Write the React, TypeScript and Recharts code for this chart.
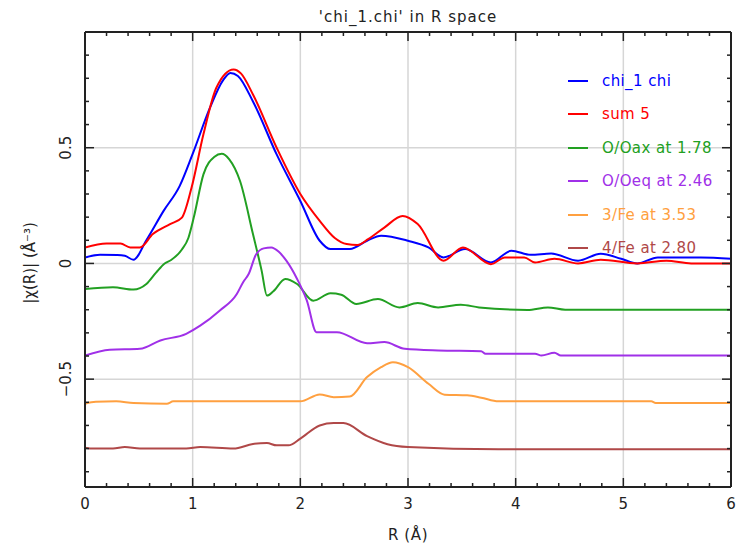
import { LineChart, Line, XAxis, YAxis, CartesianGrid } from "recharts";

// |chi(R)| for the data, the fit sum and each scattering path, as [R, value]
const chiPts: [number, number][] = [
  [0, 0.026], [0.14, 0.037], [0.3, 0.036], [0.37, 0.033], [0.45, 0.016], [0.57, 0.1],
  [0.73, 0.227], [0.88, 0.335], [1.0, 0.473], [1.16, 0.672], [1.28, 0.79], [1.35, 0.823],
  [1.42, 0.81], [1.56, 0.7], [1.78, 0.471], [2.0, 0.27], [2.18, 0.098], [2.28, 0.062],
  [2.46, 0.062], [2.62, 0.098], [2.75, 0.12], [3.0, 0.098], [3.19, 0.069], [3.33, 0.026],
  [3.53, 0.062], [3.77, 0.004], [3.96, 0.055], [4.14, 0.037], [4.33, 0.043], [4.58, 0.012],
  [4.79, 0.042], [4.98, 0.02], [5.13, 0.0], [5.32, 0.026], [5.57, 0.026], [5.72, 0.026], [6.0, 0.02],
];

const sumPts: [number, number][] = [
  [0, 0.069], [0.2, 0.086], [0.33, 0.086], [0.42, 0.069], [0.51, 0.069], [0.63, 0.127],
  [0.79, 0.17], [0.9, 0.198], [0.99, 0.328], [1.1, 0.558], [1.22, 0.759], [1.38, 0.838],
  [1.45, 0.82], [1.56, 0.73], [1.78, 0.5], [2.0, 0.3], [2.18, 0.184], [2.32, 0.11],
  [2.43, 0.084], [2.53, 0.08], [2.63, 0.105], [2.78, 0.155], [2.95, 0.205], [3.09, 0.17],
  [3.33, 0.012], [3.51, 0.069], [3.77, -0.003], [3.9, 0.026], [4.08, 0.026], [4.18, 0.004],
  [4.36, 0.02], [4.58, 0.0], [4.79, 0.016], [5.13, 0.0], [5.4, 0.012], [5.63, 0.0], [6.0, 0.0],
];

const oaxPts: [number, number][] = [
  [0, -0.11], [0.26, -0.103], [0.45, -0.113], [0.57, -0.089], [0.66, -0.04], [0.74, 0.0],
  [0.8, 0.015], [0.9, 0.06], [0.96, 0.11], [1.01, 0.198], [1.1, 0.385], [1.2, 0.46],
  [1.27, 0.474], [1.34, 0.45], [1.44, 0.356], [1.56, 0.127], [1.64, -0.03], [1.69, -0.139],
  [1.75, -0.12], [1.86, -0.067], [1.97, -0.089], [2.12, -0.161], [2.28, -0.129], [2.38, -0.135],
  [2.52, -0.175], [2.72, -0.154], [2.92, -0.19], [3.09, -0.171], [3.28, -0.19], [3.49, -0.178],
  [3.66, -0.19], [4.11, -0.201], [4.3, -0.19], [4.46, -0.2], [6.0, -0.2],
];

const oeqPts: [number, number][] = [
  [0, -0.398], [0.23, -0.373], [0.51, -0.369], [0.7, -0.333], [0.94, -0.304], [1.07, -0.269],
  [1.25, -0.204], [1.41, -0.132], [1.47, -0.08], [1.52, -0.046], [1.59, 0.04], [1.66, 0.065],
  [1.73, 0.069], [1.8, 0.05], [1.87, 0.012], [1.97, -0.067], [2.06, -0.16], [2.15, -0.297],
  [2.34, -0.297], [2.62, -0.345], [2.78, -0.34], [2.97, -0.369], [3.28, -0.376], [3.68, -0.379],
  [3.72, -0.39], [4.18, -0.39], [4.24, -0.398], [4.36, -0.386], [4.42, -0.398], [6.0, -0.398],
];

const fe3Pts: [number, number][] = [
  [0, -0.606], [0.1, -0.598], [0.29, -0.596], [0.45, -0.603], [0.76, -0.606], [0.82, -0.596],
  [2.0, -0.596], [2.18, -0.566], [2.31, -0.578], [2.46, -0.575], [2.62, -0.491], [2.75, -0.448],
  [2.86, -0.427], [3.0, -0.448], [3.19, -0.52], [3.34, -0.567], [3.55, -0.57], [3.68, -0.58],
  [3.84, -0.596], [5.26, -0.596], [5.3, -0.603], [6.0, -0.603],
];

const fe4Pts: [number, number][] = [
  [0, -0.796], [0.08, -0.8], [0.26, -0.8], [0.37, -0.793], [0.51, -0.8], [0.94, -0.8],
  [1.07, -0.793], [1.38, -0.8], [1.56, -0.78], [1.69, -0.776], [1.78, -0.786], [1.89, -0.786],
  [2.0, -0.757], [2.18, -0.7], [2.31, -0.69], [2.4, -0.69], [2.62, -0.746], [2.81, -0.781],
  [3.0, -0.793], [3.84, -0.803], [6.0, -0.803],
];

const seriesNames = ["chi_1 chi", "sum 5", "O/Oax at 1.78", "O/Oeq at 2.46", "3/Fe at 3.53", "4/Fe at 2.80"];
const seriesColors = ["#0000ff", "#ff0000", "#22a022", "#a030e8", "#ffa040", "#b04848"];
const seriesPts = [chiPts, sumPts, oaxPts, oeqPts, fe3Pts, fe4Pts];

const xTicks = [
  0, 0.2, 0.4, 0.6, 0.8, 1, 1.2, 1.4, 1.6, 1.8, 2, 2.2, 2.4, 2.6, 2.8, 3,
  3.2, 3.4, 3.6, 3.8, 4, 4.2, 4.4, 4.6, 4.8, 5, 5.2, 5.4, 5.6, 5.8, 6,
];
const yTicks = [
  -0.9, -0.8, -0.7, -0.6, -0.5, -0.4, -0.3, -0.2, -0.1, 0,
  0.1, 0.2, 0.3, 0.4, 0.5, 0.6, 0.7, 0.8, 0.9,
];
const xGrid = [1, 2, 3, 4, 5];
const yGrid = [-0.5, 0, 0.5];

const series = seriesNames.map((name, i) => ({
  name,
  color: seriesColors[i],
  data: seriesPts[i].map(([r, v]) => ({ r, v })),
}));

const FONT = "'DejaVu Sans', sans-serif";
const INK = "#222";

const isMajor = (v: number, step: number) => Math.abs(v / step - Math.round(v / step)) < 1e-6;
const fmtY = (v: number) => (v < 0 ? "\u2212" + Math.abs(v) : String(v));

// PGPLOT-style ticks: drawn inward on every side of the frame
function BottomTick({ x, y, payload }: any) {
  const major = isMajor(payload.value, 1);
  return (
    <g>
      <line x1={x} x2={x} y1={y} y2={y - (major ? 9 : 4)} stroke={INK} strokeWidth={1.5} />
      {major && (
        <text x={x} y={y + 22} textAnchor="middle" fontSize={15} fill={INK} fontFamily={FONT}>
          {payload.value}
        </text>
      )}
    </g>
  );
}

function TopTick({ x, y, payload }: any) {
  const major = isMajor(payload.value, 1);
  return <line x1={x} x2={x} y1={y} y2={y + (major ? 9 : 4)} stroke={INK} strokeWidth={1.5} />;
}

function LeftTick({ x, y, payload }: any) {
  const major = isMajor(payload.value, 0.5);
  const lx = x - 19;
  return (
    <g>
      <line x1={x} x2={x + (major ? 9 : 4)} y1={y} y2={y} stroke={INK} strokeWidth={1.5} />
      {major && (
        <text
          x={lx}
          y={y}
          transform={`rotate(-90, ${lx}, ${y})`}
          textAnchor="middle"
          dominantBaseline="central"
          fontSize={15}
          fill={INK}
          fontFamily={FONT}
        >
          {fmtY(payload.value)}
        </text>
      )}
    </g>
  );
}

function RightTick({ x, y, payload }: any) {
  const major = isMajor(payload.value, 0.5);
  return <line x1={x} x2={x - (major ? 9 : 4)} y1={y} y2={y} stroke={INK} strokeWidth={1.5} />;
}

const frame = { stroke: INK, strokeWidth: 2 };

// shared props for the four frame axes (size 1 so recharts still draws them)
const axisBase = {
  type: "number" as const,
  interval: 0 as const,
  allowDataOverflow: true,
  tickSize: 0,
  tickMargin: 0,
  tickLine: false,
  axisLine: frame,
};

export default function App() {
  return (
    <div style={{ position: "relative", width: 736, height: 546, fontFamily: FONT, background: "#fff" }}>
      <style>{"body{margin:0}"}</style>
      <LineChart width={736} height={546} margin={{ top: 31, right: 4, bottom: 58, left: 84 }}>
        <CartesianGrid stroke="#d6d6d6" strokeWidth={1.5} verticalValues={xGrid} horizontalValues={yGrid} />
        <XAxis {...axisBase} dataKey="r" domain={[0, 6]} ticks={xTicks} height={1} tick={BottomTick} />
        <XAxis
          {...axisBase}
          xAxisId="top"
          orientation="top"
          dataKey="r"
          domain={[0, 6]}
          ticks={xTicks}
          height={1}
          tick={TopTick}
        />
        <YAxis {...axisBase} domain={[-0.966, 1.0]} ticks={yTicks} width={1} tick={LeftTick} />
        <YAxis
          {...axisBase}
          yAxisId="right"
          orientation="right"
          domain={[-0.966, 1.0]}
          ticks={yTicks}
          width={1}
          tick={RightTick}
        />
        {series.map((s) => (
          <Line
            key={s.name}
            data={s.data}
            dataKey="v"
            name={s.name}
            type="monotone"
            stroke={s.color}
            strokeWidth={2}
            dot={false}
            isAnimationActive={false}
          />
        ))}
      </LineChart>

      <div style={{ position: "absolute", left: 85, width: 646, top: 8, textAlign: "center", fontSize: 15, color: INK, letterSpacing: 1 }}>
        'chi_1.chi' in R space
      </div>
      <div
        style={{
          position: "absolute",
          left: 30 - 100,
          top: 263 - 10,
          width: 200,
          height: 20,
          lineHeight: "20px",
          textAlign: "center",
          fontSize: 15,
          color: INK,
          transform: "rotate(-90deg)",
        }}
      >
        |χ(R)| (Å⁻³)
      </div>
      <div style={{ position: "absolute", left: 85, width: 646, top: 526, textAlign: "center", fontSize: 15, color: INK, letterSpacing: 0.6 }}>
        R (Å)
      </div>

      <div style={{ position: "absolute", left: 568, top: 64, fontSize: 15, letterSpacing: 0.4 }}>
        {series.map((s) => (
          <div key={s.name} style={{ display: "flex", alignItems: "center", height: 33.5, whiteSpace: "nowrap" }}>
            <span style={{ display: "inline-block", width: 20, height: 2, background: s.color, marginRight: 14 }} />
            <span style={{ color: s.color }}>{s.name}</span>
          </div>
        ))}
      </div>
    </div>
  );
}
